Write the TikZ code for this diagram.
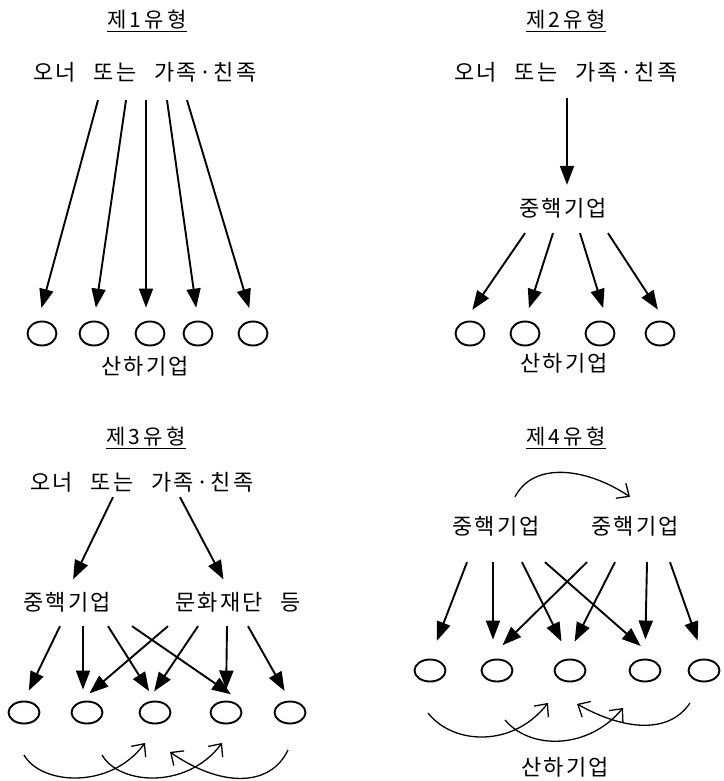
\documentclass[tikz,border=0pt]{standalone}
\usepackage{fontspec}
\setmainfont{Noto Sans CJK KR}
\newfontfamily\krtext[LetterSpace=10,WordSpace=2.5]{Noto Sans CJK KR}
\newfontfamily\krhead[LetterSpace=15]{Noto Sans CJK KR}
\usetikzlibrary{arrows.meta,shapes.geometric}
\tikzset{
	heading/.style = {font=\krhead\fontsize{21}{24}\selectfont, inner sep=0pt},
	group/.style   = {font=\krtext\fontsize{22}{26}\selectfont, inner sep=0pt},
	firm/.style    = {draw, ellipse, line width=1.9pt, inner sep=0pt,
		minimum width=29pt, minimum height=24pt},
	flatfirm/.style = {firm, minimum width=31pt, minimum height=22pt},
	link/.style    = {-{Triangle[length=19pt,width=14pt]}, line width=1.9pt,
		shorten >=13pt},
	flow/.style    = {-{Straight Barb[length=10pt,width=18pt]}, line width=1.3pt}
}

\begin{document}
\begin{tikzpicture}[x=1pt, y=-1pt]
	\useasboundingbox (0,0) rectangle (723,781);

	% type 1: owner holds every subsidiary directly
	\draw
	node at (147,21)[heading] (t1) {\underline{제1유형}}
	node at (145,72)[group] (own1) {오너 또는 가족·친족}
	node at (42,333.5)[firm] (s11) {}
	node at (94,333.5)[firm] (s12) {}
	node at (150,333.5)[firm] (s13) {}
	node at (198,333.5)[firm] (s14) {}
	node at (253,333.5)[firm] (s15) {}
	node at (145,366)[group] (sub1) {산하기업};

	\draw[link] ([xshift=-47pt,yshift=-18pt]own1.south) -- ([xshift=-4pt]s11.north);
	\draw[link] ([xshift=-19pt,yshift=-18pt]own1.south) -- (s12.north);
	\draw[link] ([xshift=1pt,yshift=-18pt]own1.south) -- ([xshift=-4pt]s13.north);
	\draw[link] ([xshift=22pt,yshift=-18pt]own1.south) -- (s14.north);
	\draw[link] ([xshift=42pt,yshift=-18pt]own1.south) -- (s15.north);

	% type 2: one core company in between
	\draw
	node at (566,21)[heading] (t2) {\underline{제2유형}}
	node at (566,72)[group] (own2) {오너 또는 가족·친족}
	node at (563,208)[group] (core2) {중핵기업}
	node at (470,333.5)[firm] (s21) {}
	node at (525,333.5)[firm] (s22) {}
	node at (600,333.5)[firm] (s23) {}
	node at (660,333.5)[firm] (s24) {}
	node at (564,363)[group] (sub2) {산하기업};

	\draw[link] ([xshift=1pt,yshift=-16pt]own2.south) -- ([xshift=4pt]core2.north);
	\draw[link] ([xshift=-38pt,yshift=-15pt]core2.south) -- ([xshift=-5pt]s21.north);
	\draw[link] ([xshift=-10pt,yshift=-15pt]core2.south) -- (s22.north);
	\draw[link] ([xshift=17pt,yshift=-15pt]core2.south) -- ([xshift=7pt]s23.north);
	\draw[link] ([xshift=45pt,yshift=-15pt]core2.south) -- ([xshift=5pt]s24.north);

	% type 3: core company and foundation, cross holdings
	\draw
	node at (146,438)[heading] (t3) {\underline{제3유형}}
	node at (142,482)[group] (own3) {오너 또는 가족·친족}
	node at (67,602)[group] (core3) {중핵기업}
	node at (238,602)[group] (fdn3) {문화재단 등}
	node at (24,712.5)[flatfirm] (s31) {}
	node at (87,712.5)[flatfirm] (s32) {}
	node at (155,712.5)[flatfirm] (s33) {}
	node at (226,712.5)[flatfirm] (s34) {}
	node at (290,712.5)[flatfirm] (s35) {};

	\draw[link, shorten >=14pt] ([xshift=-29pt,yshift=-5pt]own3.south) -- (core3.north);
	\draw[link, shorten >=14pt] ([xshift=38pt,yshift=-5pt]own3.south) -- ([xshift=-8pt]fdn3.north);

	\draw[link, shorten >=11pt] ([xshift=-7pt,yshift=-14pt]core3.south) -- (s31.north);
	\draw[link, shorten >=11pt] ([xshift=16pt,yshift=-14pt]core3.south) -- ([xshift=-4pt]s32.north);
	\draw[link, shorten >=11pt] ([xshift=41pt,yshift=-14pt]core3.south) -- (s33.north);
	\draw[link, shorten >=11pt] ([xshift=65pt,yshift=-14pt]core3.south) -- ([xshift=14pt]s34.north);
	\draw[link, shorten >=11pt] ([xshift=-70pt,yshift=-14pt]fdn3.south) -- ([xshift=-6pt]s32.north);
	\draw[link, shorten >=11pt] ([xshift=-40pt,yshift=-14pt]fdn3.south) -- ([xshift=-7pt]s33.north);
	\draw[link, shorten >=11pt] ([xshift=-11pt,yshift=-14pt]fdn3.south) -- (s34.north);
	\draw[link, shorten >=11pt] ([xshift=10pt,yshift=-14pt]fdn3.south) -- (s35.north);

	\draw[flow] ([yshift=-30.5pt]s31.south) .. controls +(17,30) and +(-35,47) .. ([xshift=-10pt,yshift=-18.5pt]s33.south);
	\draw[flow] ([xshift=15pt,yshift=-30.5pt]s32.south) .. controls +(17,30) and +(-35,47) .. ([xshift=-4pt,yshift=-18.5pt]s34.south);
	\draw[flow] ([xshift=-2pt,yshift=-25.5pt]s35.south) .. controls +(-18,38) and +(50,35) .. ([xshift=15pt,yshift=-27.5pt]s33.south);

	% type 4: two core companies holding each other
	\draw
	node at (566,438)[heading] (t4) {\underline{제4유형}}
	node at (496,526)[group] (corea) {중핵기업}
	node at (635,526)[group] (coreb) {중핵기업}
	node at (430,670.5)[flatfirm] (s41) {}
	node at (497,670.5)[flatfirm] (s42) {}
	node at (570,670.5)[flatfirm] (s43) {}
	node at (645,670.5)[flatfirm] (s44) {}
	node at (704,670.5)[flatfirm] (s45) {}
	node at (565,767)[group] (sub4) {산하기업};

	\draw[flow] ([xshift=19pt,yshift=19pt]corea.north) .. controls +(18,-35) and +(-45,-30) .. ([xshift=-5pt,yshift=19pt]coreb.north);

	\draw[link, shorten >=19pt] ([xshift=-29pt,yshift=-26pt]corea.south) -- (s41.north);
	\draw[link, shorten >=19pt] ([xshift=-3pt,yshift=-26pt]corea.south) -- ([xshift=-4pt]s42.north);
	\draw[link, shorten >=19pt] ([xshift=26pt,yshift=-26pt]corea.south) -- (s43.north);
	\draw[link, shorten >=19pt] ([xshift=49pt,yshift=-26pt]corea.south) -- ([xshift=10pt]s44.north);
	\draw[link, shorten >=19pt] ([xshift=-48pt,yshift=-26pt]coreb.south) -- ([xshift=-8pt]s42.north);
	\draw[link, shorten >=19pt] ([xshift=-20pt,yshift=-26pt]coreb.south) -- ([xshift=-4pt]s43.north);
	\draw[link, shorten >=19pt] ([xshift=12pt,yshift=-26pt]coreb.south) -- (s44.north);
	\draw[link, shorten >=19pt] ([xshift=35pt,yshift=-26pt]coreb.south) -- (s45.north);

	\draw[flow] ([xshift=-2pt,yshift=-30.5pt]s41.south) .. controls +(25,32) and +(-35,45) .. ([xshift=-22pt,yshift=-20.5pt]s43.south);
	\draw[flow] ([xshift=8pt,yshift=-37.5pt]s42.south) .. controls +(25,30) and +(-35,42) .. ([xshift=-22pt,yshift=-25.5pt]s44.south);
	\draw[flow] ([xshift=-14pt,yshift=-20.5pt]s45.south) .. controls +(-20,30) and +(50,28) .. ([xshift=7pt,yshift=-21.5pt]s43.south);
\end{tikzpicture}
\end{document}
